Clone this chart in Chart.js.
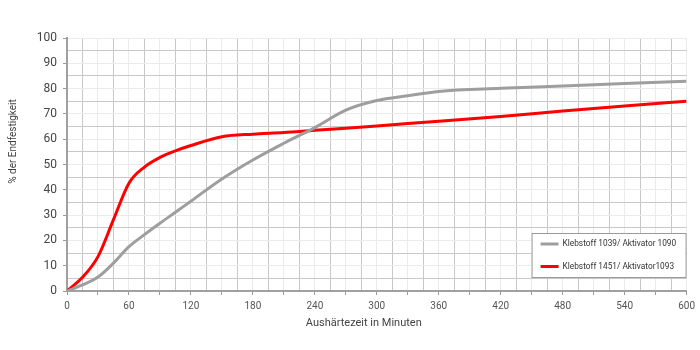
<!DOCTYPE html>
<html lang="de">
<head>
<meta charset="utf-8">
<title>Endfestigkeit</title>
<script src="https://cdn.jsdelivr.net/npm/chart.js"></script>
<style>
  html, body { margin: 0; padding: 0; background: #fff; }
</style>
</head>
<body>
<canvas id="chart" width="700" height="350"></canvas>
<script>
// Aushaertezeit in Minuten
var minuten = [0, 15, 30, 45, 60, 75, 90, 105, 120, 150, 180, 210, 240, 270, 300, 330, 360, 420, 480, 540, 600];
// % der Endfestigkeit
var klebstoff1039 = [0, 2.4, 5.5, 11, 17.5, 22.3, 26.8, 31.1, 35.5, 44.3, 51.8, 58.4, 64.6, 71.5, 75.3, 77.2, 78.9, 80.1, 81.0, 82.0, 82.9];
var klebstoff1451 = [0, 5.4, 13.6, 28.2, 42.6, 49, 52.8, 55.4, 57.5, 61, 62, 62.6, 63.5, 64.3, 65.2, 66.2, 67.1, 69, 71.1, 73.1, 75];
var serienNamen = ['Klebstoff 1039/ Aktivator 1090', 'Klebstoff 1451/ Aktivator1093'];

function punkte(werte) {
  return minuten.map(function (t, i) { return { x: t, y: werte[i] }; });
}

// legende unten rechts im diagramm
var legendBox = {
  id: 'legendBox',
  afterDraw: function (chart) {
    var ctx = chart.ctx, a = chart.chartArea;
    var w = 154, h = 44;
    var x = a.right - w - 1, y = a.bottom - h - 14;
    ctx.save();
    ctx.fillStyle = '#fff';
    ctx.fillRect(x, y, w, h);
    ctx.strokeStyle = '#9a9a9a';
    ctx.lineWidth = 1;
    ctx.strokeRect(x + 0.5, y + 0.5, w, h);
    ctx.font = '8.3px Roboto';
    ctx.textBaseline = 'middle';
    chart.data.datasets.forEach(function (ds, i) {
      var ly = y + 11 + i * 22.5;
      ctx.strokeStyle = ds.borderColor;
      ctx.lineWidth = 3;
      ctx.beginPath();
      ctx.moveTo(x + 9, ly);
      ctx.lineTo(x + 27, ly);
      ctx.stroke();
      ctx.fillStyle = '#333';
      ctx.fillText(ds.label, x + 31, ly);
    });
    ctx.restore();
  }
};

// achsentitel
var achsenTitel = {
  id: 'achsenTitel',
  afterDraw: function (chart) {
    var ctx = chart.ctx, a = chart.chartArea;
    ctx.save();
    ctx.fillStyle = '#444';
    ctx.textAlign = 'center';
    ctx.textBaseline = 'middle';
    ctx.font = '11px Roboto';
    ctx.fillText('Aushärtezeit in Minuten', (a.left + a.right) / 2 - 13, a.bottom + 32);
    ctx.translate(13.5, (a.top + a.bottom) / 2 - 23);
    ctx.rotate(-Math.PI / 2);
    ctx.font = '10px Roboto';
    ctx.fillText('% der Endfestigkeit', 0, 0);
    ctx.restore();
  }
};

var chart = new Chart(document.getElementById('chart'), {
  type: 'line',
  data: {
    datasets: [
      {
        label: serienNamen[0],
        data: punkte(klebstoff1039),
        borderColor: '#9e9e9e',
        backgroundColor: '#9e9e9e',
        borderWidth: 3,
        pointRadius: 0,
        cubicInterpolationMode: 'monotone'
      },
      {
        label: serienNamen[1],
        data: punkte(klebstoff1451),
        borderColor: '#ff0000',
        backgroundColor: '#ff0000',
        borderWidth: 3,
        pointRadius: 0,
        cubicInterpolationMode: 'monotone'
      }
    ]
  },
  options: {
    responsive: false,
    animation: false,
    layout: { padding: { top: 38, right: 12, left: 0, bottom: 0 } },
    plugins: {
      legend: { display: false },
      tooltip: { enabled: false }
    },
    scales: {
      x: {
        type: 'linear',
        min: 0,
        max: 600,
        afterFit: function (s) { s.height = 59; },
        border: { color: '#a0a0a0', width: 2 },
        grid: {
          tickLength: 4,
          color: function (c) { return c.tick.value % 30 === 0 ? '#ebebeb' : '#c8c8c8'; },
          tickColor: function (c) { return c.tick.value % 30 === 0 ? '#9a9a9a' : 'rgba(0,0,0,0)'; }
        },
        ticks: {
          stepSize: 15,
          autoSkip: false,
          maxRotation: 0,
          padding: 5,
          color: '#555',
          font: { family: 'Roboto', size: 10 },
          callback: function (v) { return v % 60 === 0 ? v : ''; }
        }
      },
      y: {
        min: 0,
        max: 100,
        afterFit: function (s) { s.width = 67; },
        border: { color: '#a0a0a0', width: 2 },
        grid: {
          tickLength: 4,
          color: function (c) { return c.tick.value % 10 === 0 ? '#ebebeb' : '#c8c8c8'; },
          tickColor: function (c) { return c.tick.value % 10 === 0 ? '#9a9a9a' : 'rgba(0,0,0,0)'; }
        },
        ticks: {
          stepSize: 5,
          autoSkip: false,
          padding: 6,
          color: '#444',
          font: { family: 'Roboto', size: 12 },
          callback: function (v) { return v % 10 === 0 ? v : ''; }
        }
      }
    }
  },
  plugins: [legendBox, achsenTitel]
});
</script>
</body>
</html>
